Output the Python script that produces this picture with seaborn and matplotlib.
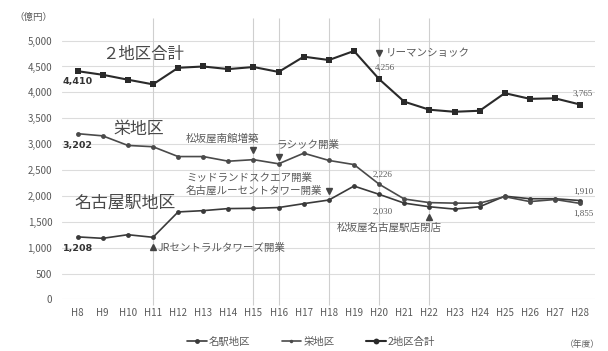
import matplotlib
matplotlib.use("Agg")
import matplotlib.pyplot as plt
import seaborn as sns
import pandas as pd
from matplotlib.lines import Line2D

# 年度
years = ["H8", "H9", "H10", "H11", "H12", "H13", "H14", "H15", "H16", "H17",
         "H18", "H19", "H20", "H21", "H22", "H23", "H24", "H25", "H26", "H27", "H28"]
# 売上高（億円）
meieki = [1208, 1180, 1250, 1200, 1690, 1715, 1755, 1760, 1775, 1850,
          1920, 2190, 2030, 1860, 1790, 1745, 1790, 1995, 1945, 1945, 1910]
sakae = [3202, 3160, 2975, 2950, 2760, 2760, 2670, 2700, 2620, 2825,
         2685, 2605, 2226, 1940, 1870, 1860, 1860, 1985, 1890, 1930, 1855]
total = [4410, 4340, 4245, 4155, 4475, 4500, 4450, 4490, 4395, 4690,
         4625, 4800, 4256, 3820, 3665, 3625, 3645, 3985, 3875, 3885, 3765]
yticks = [0, 500, 1000, 1500, 2000, 2500, 3000, 3500, 4000, 4500, 5000]
event_years = ["H11", "H15", "H16", "H18", "H20", "H22"]

sns.set_theme(style="white")
plt.rcParams["font.family"] = ["Noto Sans CJK JP", "DejaVu Sans"]

GRID = "#dcdcdc"
TXT = "#5a5a5a"
LINE = "#3a3a3a"

df = pd.DataFrame({"year": years, "idx": range(len(years)),
                   "名駅地区": meieki, "栄地区": sakae, "2地区合計": total})

fig = plt.figure(figsize=(6.08, 3.51), dpi=100)
ax = fig.add_axes([0.102, 0.147, 0.877, 0.811])

# 横グリッド
for v in yticks:
    ax.axhline(v, color=GRID, lw=0.8, zorder=0)
# 出来事の縦線
for ev in event_years:
    i = years.index(ev)
    ax.vlines(i, -110, 5440, color="#cfcfcf", lw=0.8, zorder=0, clip_on=False)

sns.lineplot(data=df, x="idx", y="名駅地区", ax=ax, color=LINE, lw=1.2,
             marker="o", markersize=3.5, markeredgewidth=0, zorder=3)
sns.lineplot(data=df, x="idx", y="栄地区", ax=ax, color="#4a4a4a", lw=1.2,
             marker="o", markersize=3.5, markeredgewidth=0, zorder=3)
sns.lineplot(data=df, x="idx", y="2地区合計", ax=ax, color="#2a2a2a", lw=1.5,
             marker="s", markersize=4.2, markeredgewidth=0, zorder=4)

ax.set_xlim(-0.62, 20.6)
ax.set_ylim(0, 5500)
ax.set_xticks(range(len(years)))
ax.set_xticklabels(years)
ax.set_yticks(yticks)
ax.set_yticklabels([f"{v:,}" for v in yticks])
ax.tick_params(axis="both", length=0, labelsize=7, colors=TXT)
ax.tick_params(axis="y", pad=7)
ax.tick_params(axis="x", pad=6)
ax.set_xlabel("")
ax.set_ylabel("")
for s in ax.spines.values():
    s.set_visible(False)

# 系列名
ax.text(2.59, 4724, "２地区合計", fontsize=11.8, color="#4a4a4a", ha="center", va="center")
ax.text(2.44, 3283, "栄地区", fontsize=12.2, color="#4a4a4a", ha="center", va="center")
ax.text(1.88, 1872, "名古屋駅地区", fontsize=12.2, color="#4a4a4a", ha="center", va="center")

# 出来事
ev_fs = 7.6
ax.text(4.31, 3119, "松坂屋南館増築", fontsize=ev_fs, color=TXT, ha="left", va="center")
ax.plot([7], [2887], marker="v", color="#444444", markersize=5, zorder=5)
ax.text(7.9, 2983, "ラシック開業", fontsize=ev_fs, color=TXT, ha="left", va="center")
ax.plot([8], [2751], marker="v", color="#444444", markersize=5, zorder=5)
ax.text(4.31, 2355, "ミッドランドスクエア開業", fontsize=ev_fs, color=TXT, ha="left", va="center")
ax.text(4.31, 2113, "名古屋ルーセントタワー開業", fontsize=ev_fs, color=TXT, ha="left", va="center")
ax.plot([10], [2094], marker="v", color="#444444", markersize=5, zorder=5)
ax.plot([3], [1011], marker="^", color="#444444", markersize=5, zorder=5)
ax.text(3.2, 992, "JRセントラルタワーズ開業", fontsize=ev_fs, color=TXT, ha="left", va="center")
ax.plot([12], [4761], marker="v", color="#444444", markersize=5, zorder=5)
ax.text(12.28, 4761, "リーマンショック", fontsize=ev_fs, color=TXT, ha="left", va="center")
ax.plot([14], [1591], marker="^", color="#444444", markersize=5, zorder=5)
ax.text(14.48, 1379, "松坂屋名古屋駅店閉店", fontsize=ev_fs, color=TXT, ha="right", va="center")

# 数値ラベル
bold_kw = dict(fontsize=6.8, color="#333333", fontweight="bold", ha="left", va="center",
               family=["Liberation Sans Narrow", "DejaVu Sans"])
ax.text(-0.59, 4201, f"{total[0]:,}", **bold_kw)
ax.text(-0.59, 2964, f"{sakae[0]:,}", **bold_kw)
ax.text(-0.59, 992, f"{meieki[0]:,}", **bold_kw)
num_kw = dict(fontsize=6.5, color=TXT, ha="left", va="center",
              family=["Liberation Serif", "DejaVu Serif"])
ax.text(11.85, 4472, f"{total[12]:,}", **num_kw)
ax.text(11.76, 2403, f"{sakae[12]:,}", **num_kw)
ax.text(11.76, 1688, f"{meieki[12]:,}", **num_kw)
ax.text(19.69, 3969, f"{total[20]:,}", **num_kw)
ax.text(19.73, 2075, f"{meieki[20]:,}", **num_kw)
ax.text(19.73, 1649, f"{sakae[20]:,}", **num_kw)

# 単位
fig.text(14 / 608, 1 - 17 / 351, "（億円）", fontsize=6.8, color=TXT, ha="left", va="center")
fig.text(600 / 608, 1 - 345 / 351, "（年度）", fontsize=6.3, color=TXT, ha="right", va="center")

# 凡例
handles = [
    Line2D([], [], color=LINE, lw=1.2, marker="o", markersize=3.5, markeredgewidth=0),
    Line2D([], [], color="#4a4a4a", lw=1.2, marker="o", markersize=2.5, markeredgewidth=0),
    Line2D([], [], color="#2a2a2a", lw=1.5, marker="o", markersize=4.2, markeredgewidth=0),
]
fig.legend(handles, ["名駅地区", "栄地区", "2地区合計"], loc="center",
           bbox_to_anchor=(311 / 608, 1 - 342 / 351), ncol=3, frameon=False,
           fontsize=7.5, handlelength=1.9, handletextpad=0.2, columnspacing=3.0,
           labelcolor=TXT)

fig.savefig("out.png", dpi=100, facecolor="white")
